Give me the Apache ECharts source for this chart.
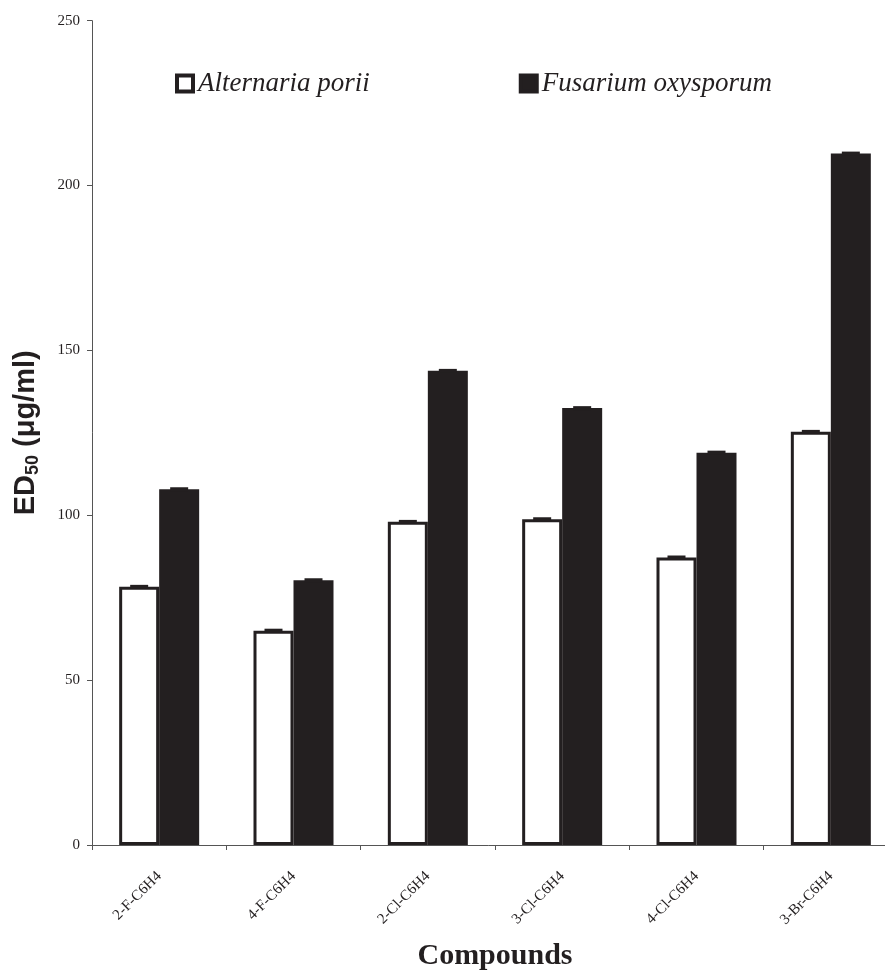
<!DOCTYPE html>
<html>
<head>
<meta charset="utf-8">
<script src="https://cdn.jsdelivr.net/npm/echarts@6/dist/echarts.min.js"></script>
<style>
html,body{margin:0;padding:0;background:#fff;}
#chart{width:885px;height:971px;}
</style>
</head>
<body>
<div id="chart"></div>
<script>
var categories = ['2-F-C6H4', '4-F-C6H4', '2-Cl-C6H4', '3-Cl-C6H4', '4-Cl-C6H4', '3-Br-C6H4'];
var seriesNames = ['Alternaria porii', 'Fusarium oxysporum'];
var alternaria = [78.3, 65.0, 98.0, 98.8, 87.2, 125.3];
var fusarium = [107.9, 80.3, 143.8, 132.5, 119.0, 209.7];
var alternariaErr = [0.6, 0.6, 0.6, 0.6, 0.6, 0.6];
var fusariumErr = [0.6, 0.6, 0.6, 0.6, 0.6, 0.6];
var yTicks = [0, 50, 100, 150, 200, 250];

var INK = '#231f20';
var chart = echarts.init(document.getElementById('chart'));

function errData(vals, errs) {
  return vals.map(function (v, i) { return [i, v - errs[i], v + errs[i]]; });
}
function capRenderer(offset) {
  return function (params, api) {
    var c = api.value(0);
    var lo = api.coord([c, api.value(1)]);
    var hi = api.coord([c, api.value(2)]);
    var x = lo[0] + offset;
    var w = 18;
    return {
      type: 'rect',
      shape: { x: x - w / 2, y: hi[1], width: w, height: Math.max(lo[1] - hi[1], 1) },
      style: { fill: INK }
    };
  };
}

var option = {
  backgroundColor: '#fff',
  animation: false,
  grid: { left: 92, top: 20.7, bottom: 126, width: 806, outerBoundsMode: 'none', containLabel: false },
  legend: {
    data: [
      { name: seriesNames[0], itemStyle: { color: '#fff', borderColor: INK, borderWidth: 4 } },
      { name: seriesNames[1], itemStyle: { color: INK, borderColor: INK, borderWidth: 4 } }
    ],
    left: 175,
    top: 70,
    padding: 0,
    itemWidth: 16,
    itemHeight: 16,
    itemGap: 149,
    icon: 'rect',
    textStyle: { fontFamily: 'Liberation Serif', fontStyle: 'italic', fontSize: 27, color: INK }
  },
  xAxis: {
    type: 'category',
    data: categories,
    boundaryGap: true,
    name: 'Compounds',
    nameLocation: 'middle',
    nameGap: 96,
    nameTextStyle: { fontFamily: 'Liberation Serif', fontWeight: 'bold', fontSize: 30, color: INK },
    axisLine: { lineStyle: { color: '#555', width: 1 } },
    axisTick: { show: true, length: 5, lineStyle: { color: '#555' } },
    axisLabel: {
      rotate: 45, margin: 29, fontFamily: 'Liberation Serif', fontSize: 15, color: INK, interval: 0
    },
    splitLine: { show: false }
  },
  yAxis: {
    type: 'value',
    min: yTicks[0],
    max: yTicks[yTicks.length - 1],
    interval: yTicks[1] - yTicks[0],
    name: '{a|ED}{b|50}{a| (μg/ml)}',
    nameLocation: 'middle',
    nameGap: 50,
    nameRotate: 90,
    nameTextStyle: {
      rich: {
        a: { fontFamily: 'Liberation Sans', fontWeight: 'bold', fontSize: 29, color: INK },
        b: { fontFamily: 'Liberation Sans', fontWeight: 'bold', fontSize: 18, color: INK, padding: [14, 0, 0, 0] }
      }
    },
    axisLine: { show: true, lineStyle: { color: '#555', width: 1 } },
    axisTick: { show: true, length: 5, lineStyle: { color: '#555' } },
    axisLabel: { margin: 12, fontFamily: 'Liberation Serif', fontSize: 15, color: INK },
    splitLine: { show: false }
  },
  series: [
    {
      name: seriesNames[0], type: 'bar', data: alternaria, barWidth: 40, barGap: '0%',
      itemStyle: { color: '#fff', borderColor: INK, borderWidth: 3 }
    },
    {
      name: seriesNames[1], type: 'bar', data: fusarium, barWidth: 40, barGap: '0%',
      itemStyle: { color: INK, borderColor: INK, borderWidth: 0 }
    },
    {
      type: 'custom', name: 'errA', data: errData(alternaria, alternariaErr),
      renderItem: capRenderer(-20), z: 5, silent: true
    },
    {
      type: 'custom', name: 'errF', data: errData(fusarium, fusariumErr),
      renderItem: capRenderer(20), z: 5, silent: true
    }
  ]
};
chart.setOption(option);
</script>
</body>
</html>
